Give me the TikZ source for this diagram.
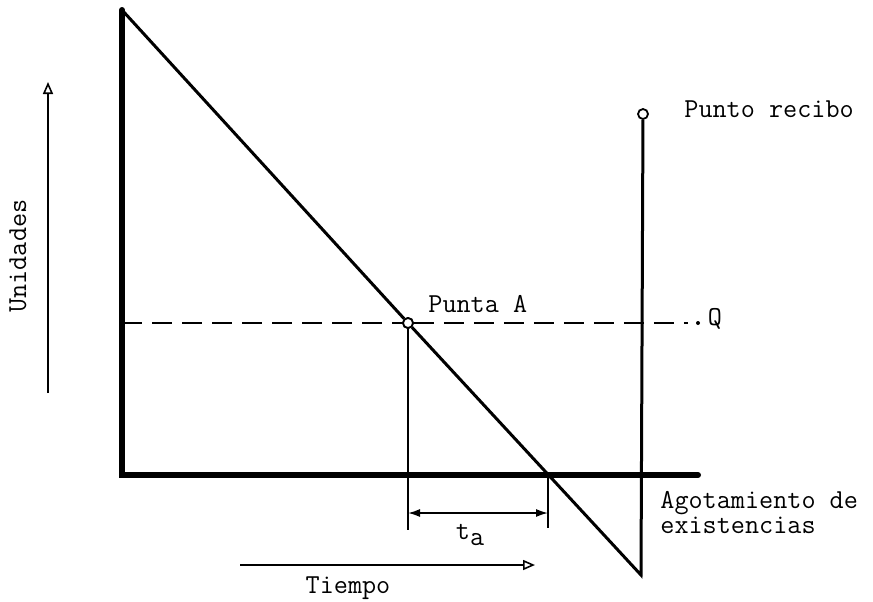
\documentclass[tikz,border=0pt]{standalone}
\usepackage{fontspec}
\usetikzlibrary{arrows.meta, positioning}

\begin{document}
\begin{tikzpicture}[x=0.5pt, y=-0.5pt,
  lbl/.style={font=\ttfamily\fontsize{13.7}{10.5}\selectfont, inner sep=0pt},
  axisline/.style={line width=3pt, line cap=round},
  stock/.style={line width=1.5pt, line join=miter},
  guide/.style={line width=0.8pt},
  pt/.style={circle, draw, line width=0.9pt, fill=white, inner sep=0pt, minimum size=5pt}]
  \useasboundingbox (0,0) rectangle (873,601);

  % axes and stock curve
  \coordinate (top) at (122,10);
  \coordinate (orig) at (122,475);
  \coordinate (xend) at (698,475);
  \coordinate (cross) at (548,475);
  \coordinate (low) at (641,575);
  \coordinate (dashend) at (688,323);
  \coordinate (qend) at (698,323);
  \draw[axisline] (top) -- (orig) -- (xend);
  \node[pt] (ptA) at (408,323) {};
  \node[pt] (ptR) at (643,114) {};
  \draw[guide, dash pattern=on 10pt off 5pt] (orig |- ptA) -- (ptA) -- (dashend);
  \fill (qend) circle (1pt);
  \draw[stock] (top) -- (ptA) -- (low) -- (ptR);
  \node[pt] at (ptA) {};

  % lead time
  \coordinate (tick1) at (408,530);
  \coordinate (tick2) at (548,528);
  \draw[guide] (ptA) -- (tick1);
  \draw[guide] (cross) -- (tick2);
  \draw[guide, {Latex[length=6pt,width=4pt]}-{Latex[length=6pt,width=4pt]}]
        (408,513) -- (548,513);
  \node[lbl] (ta) at (470,535) {t\raisebox{-3pt}{a}};

  % direction arrows
  \coordinate (u0) at (48,393);
  \coordinate (u1) at (48,82);
  \draw[guide, -{Triangle[open,length=6pt,width=5pt]}] (u0) -- (u1);
  \node[lbl, rotate=90] (unid) at (18,256) {Unidades};
  \coordinate (t0) at (240,565);
  \coordinate (t1) at (535,565);
  \draw[guide, -{Triangle[open,length=6pt,width=5pt]}] (t0) -- (t1);
  \node[lbl] (tiempo) at (348,588) {Tiempo};

  % labels
  \node[lbl, anchor=west] (recibo) at (684,109) {Punto recibo};
  \node[lbl, anchor=west] (puntaA) at (428,304) {Punta A};
  \node[lbl] (qlab) at (715,319) {Q};
  \node[lbl, anchor=north west, align=left] (agot) at (660,491)
        {Agotamiento de\\existencias};
\end{tikzpicture}
\end{document}
